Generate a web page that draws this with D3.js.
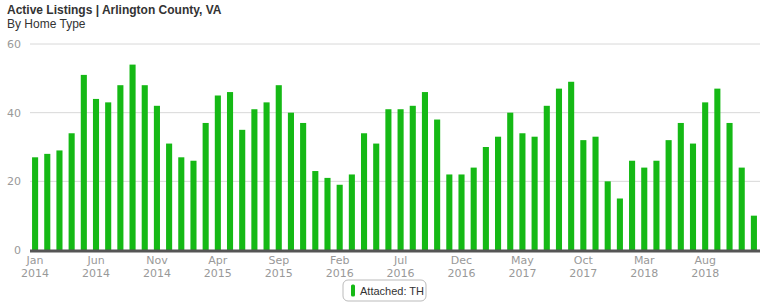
<!DOCTYPE html>
<html>
<head>
<meta charset="utf-8">
<script src="https://cdn.jsdelivr.net/npm/d3@7"></script>
<style>
  body { margin: 0; background: #fff; font-family: "DejaVu Sans", sans-serif; }
  svg { display: block; }
</style>
</head>
<body>
<svg id="chart" width="768" height="307" viewBox="0 0 768 307"></svg>
<script>
// Monthly active listings, Jan 2014 - Dec 2018
const months = ["Jan","Feb","Mar","Apr","May","Jun","Jul","Aug","Sep","Oct","Nov","Dec"];
const years = [2014, 2015, 2016, 2017, 2018];
const attachedTH = [
    27, 28, 29, 34, 51, 44, 43, 48, 54, 48, 42, 31,
    27, 26, 37, 45, 46, 35, 41, 43, 48, 40, 37, 23,
    21, 19, 22, 34, 31, 41, 41, 42, 46, 38, 22, 22,
    24, 30, 33, 40, 34, 33, 42, 47, 49, 32, 33, 20,
    15, 26, 24, 26, 32, 37, 31, 43, 47, 37, 24, 10
];
const yTicks = [0, 20, 40, 60];

const svg = d3.select("#chart")
const width = parseInt(svg.attr("viewBox").split(' ')[2])
const height = parseInt(svg.attr("viewBox").split(' ')[3])
const margin = {left: 29, right: 8, top: 44, bottom: 57}

const data = []
years.forEach(y => months.forEach(m => data.push({label: m + " " + y})))
data.forEach((d, i) => d.value = attachedTH[i])

// scales
const x = d3.scaleBand()
    .domain(data.map(d => d.label))
    .range([margin.left, width - margin.right])
    .paddingInner(0.5)
    .paddingOuter(0.25)

const y = d3.scaleLinear()
    .domain([0, 60])
    .range([height - margin.bottom, margin.top])

// title
svg.append("text")
    .attr("x", 7).attr("y", 14)
    .attr("font-family", "'Liberation Sans', Arial, sans-serif")
    .attr("font-size", 12).attr("font-weight", "bold")
    .attr("fill", "#333")
    .text("Active Listings | Arlington County, VA")
svg.append("text")
    .attr("x", 7).attr("y", 28)
    .attr("font-family", "'Liberation Sans', Arial, sans-serif")
    .attr("font-size", 12).attr("fill", "#333")
    .text("By Home Type")

// gridlines + y labels
const grid = svg.append("g")
grid.selectAll("line")
    .data(yTicks.filter(t => t > 0))
    .enter().append("line")
    .attr("x1", margin.left + 1).attr("x2", width - margin.right)
    .attr("y1", d => y(d)).attr("y2", d => y(d))
    .attr("stroke", "#d8d8d8").attr("stroke-width", 1)
grid.selectAll("text")
    .data(yTicks)
    .enter().append("text")
    .attr("x", 21).attr("y", d => y(d) + 4)
    .attr("text-anchor", "end")
    .attr("font-size", 11).attr("fill", "#999")
    .text(d => d)

// bars
svg.append("g").selectAll("rect")
    .data(data)
    .enter().append("rect")
    .attr("x", d => x(d.label))
    .attr("width", x.bandwidth())
    .attr("y", d => y(d.value))
    .attr("height", d => y(0) - y(d.value))
    .attr("fill", "#15b915")

// baseline
svg.append("line")
    .attr("x1", margin.left + 1).attr("x2", width - margin.right)
    .attr("y1", y(0) + 1).attr("y2", y(0) + 1)
    .attr("stroke", "#555").attr("stroke-width", 3)

// x labels every 5 months
const xTicks = data.filter((d, i) => i % 5 === 0)
const xl = svg.append("g").selectAll("text")
    .data(xTicks)
    .enter().append("text")
    .attr("text-anchor", "middle")
    .attr("font-size", 11).attr("fill", "#999")
    .attr("transform", d => `translate(${x(d.label) + x.bandwidth() / 2},0)`)
xl.append("tspan").attr("x", 0).attr("y", 264).text(d => d.label.split(" ")[0])
xl.append("tspan").attr("x", 0).attr("y", 277).text(d => d.label.split(" ")[1])

// legend
const legend = svg.append("g").attr("transform", "translate(343,280)")
legend.append("rect")
    .attr("width", 83).attr("height", 21).attr("rx", 5)
    .attr("fill", "#fff").attr("stroke", "#bbb")
legend.append("rect")
    .attr("x", 8).attr("y", 4.5).attr("width", 4).attr("height", 12).attr("rx", 1.5)
    .attr("fill", "#15b915")
legend.append("text")
    .attr("x", 17).attr("y", 14.5)
    .attr("font-family", "'Liberation Sans', Arial, sans-serif")
    .attr("font-size", 11).attr("fill", "#333")
    .text("Attached: TH")
</script>
</body>
</html>
